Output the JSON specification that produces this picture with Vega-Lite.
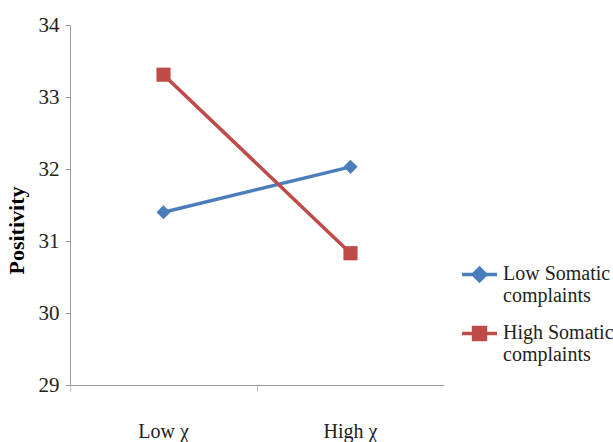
{
  "$schema": "https://vega.github.io/schema/vega-lite/v6.json",
  "width": 374,
  "height": 360,
  "autosize": {"type": "none"},
  "padding": {"left": 70, "top": 25, "right": 169, "bottom": 57},
  "background": "white",
  "config": {
    "view": {"stroke": null},
    "font": "Liberation Serif, serif",
    "axis": {"labelFont": "Liberation Serif, serif", "titleFont": "Liberation Serif, serif"},
    "legend": {"labelFont": "Liberation Serif, serif"}
  },
  "data": {
    "values": [
      {"x": "Low χ", "group": "Low Somatic complaints", "value": 31.4},
      {"x": "High χ", "group": "Low Somatic complaints", "value": 32.03},
      {"x": "Low χ", "group": "High Somatic complaints", "value": 33.31},
      {"x": "High χ", "group": "High Somatic complaints", "value": 30.83}
    ]
  },
  "encoding": {
    "x": {
      "field": "x", "type": "nominal", "sort": ["Low χ", "High χ"],
      "scale": {"type": "band", "paddingInner": 0, "paddingOuter": 0},
      "axis": {
        "title": null, "labelAngle": 0, "labelFontSize": 20, "labelColor": "#222",
        "labelFont": "Liberation Serif, serif",
        "labelPadding": 30, "domainColor": "#999", "tickColor": "#bbb", "tickSize": 6,
        "bandPosition": 0
      }
    },
    "y": {
      "field": "value", "type": "quantitative",
      "scale": {"domain": [29, 34], "nice": false, "zero": false},
      "axis": {
        "values": [29, 30, 31, 32, 33, 34], "grid": false, "title": "Positivity",
        "titleFontSize": 22, "titleFontWeight": "bold", "titleColor": "#000",
        "titleFont": "Liberation Serif, serif", "labelFont": "Liberation Serif, serif",
        "titlePadding": 10, "titleY": 205, "labelFontSize": 21, "labelColor": "#222", "labelPadding": 6,
        "domainColor": "#999", "tickColor": "#999", "tickSize": 5
      }
    },
    "color": {
      "field": "group", "type": "nominal",
      "sort": ["Low Somatic complaints", "High Somatic complaints"],
      "scale": {"domain": ["Low Somatic complaints", "High Somatic complaints"], "range": ["#4a7ebb", "#be4b48"]},
      "legend": {
        "title": null, "orient": "none", "legendX": 390, "legendY": 230,
        "labelFontSize": 20, "labelColor": "#222", "labelFont": "Liberation Serif, serif",
        "labelExpr": "datum.label == 'Low Somatic complaints' ? ['Low Somatic', 'complaints'] : ['High Somatic', 'complaints']",
        "labelBaseline": "top", "labelOffset": 4,
        "rowPadding": 8, "symbolSize": 1225, "labelLimit": 200,
        "encode": {
          "symbols": {
            "update": {
              "shape": {"signal": "datum.value == 'Low Somatic complaints' ? 'M-1,0L1,0M0,-0.36L0.36,0L0,0.36L-0.36,0Z' : 'M-1,0L1,0M-0.34,-0.34L0.34,-0.34L0.34,0.34L-0.34,0.34Z'"},
              "stroke": {"scale": "color", "field": "value"},
              "fill": {"scale": "color", "field": "value"},
              "strokeWidth": {"value": 3.5},
              "opacity": {"value": 1}
            }
          },
          "labels": {
            "update": {
              "dy": {"value": -11},
              "font": {"value": "Liberation Serif, serif"},
              "fontSize": {"value": 20}
            }
          }
        }
      }
    }
  },
  "layer": [
    {"mark": {"type": "line", "strokeWidth": 3.5}},
    {
      "transform": [{"filter": "datum.group == 'Low Somatic complaints'"}],
      "mark": {"type": "point", "filled": true, "size": 200, "opacity": 1, "shape": "diamond"}
    },
    {
      "transform": [{"filter": "datum.group == 'High Somatic complaints'"}],
      "mark": {"type": "point", "filled": true, "size": 200, "opacity": 1, "shape": "square"}
    }
  ]
}
